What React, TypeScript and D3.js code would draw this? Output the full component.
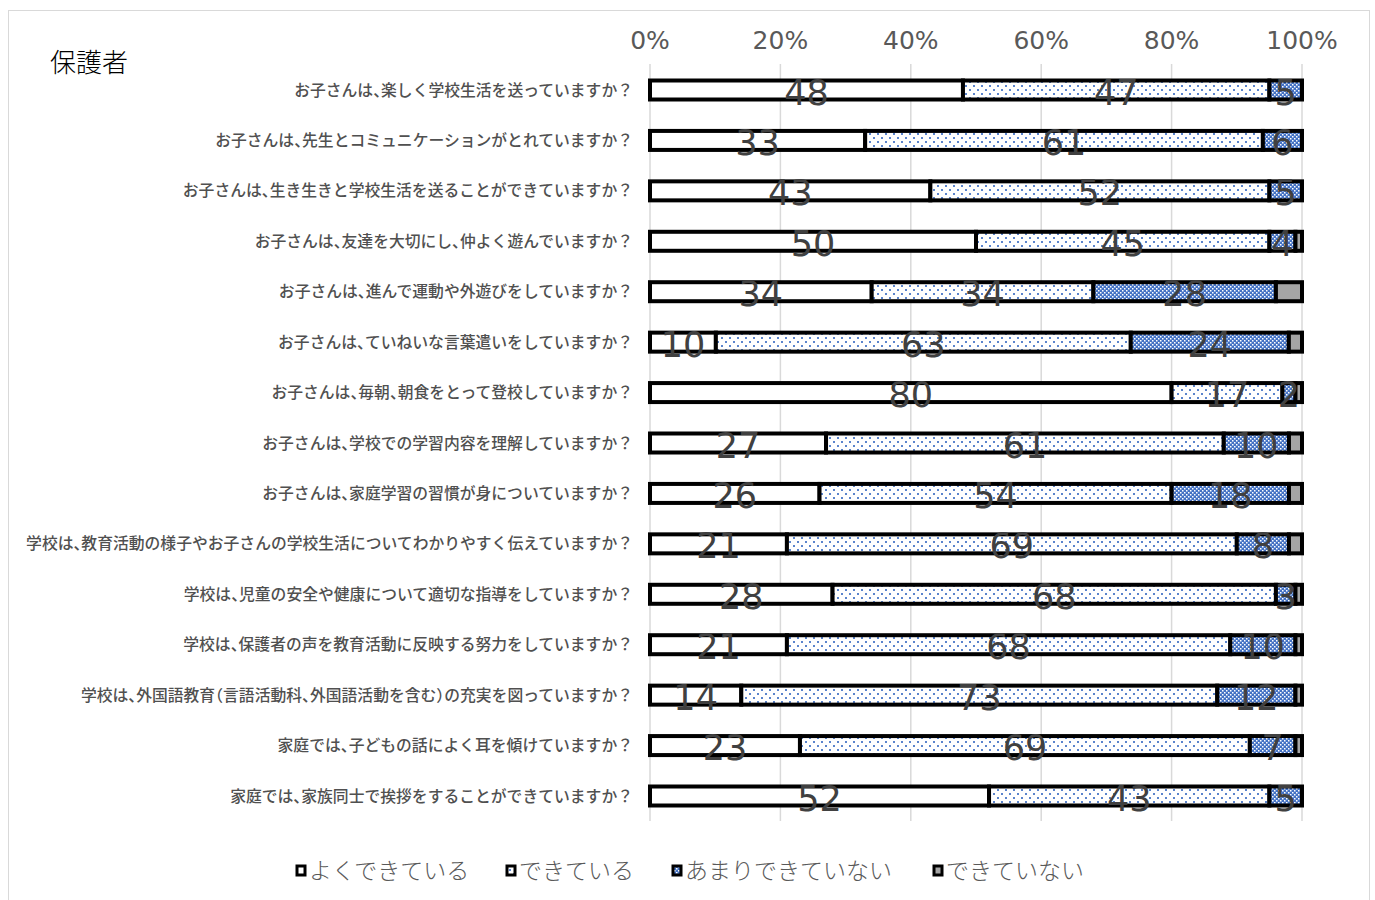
import * as d3 from "d3";

const categories = [
  "お子さんは、楽しく学校生活を送っていますか？",
  "お子さんは、先生とコミュニケーションがとれていますか？",
  "お子さんは、生き生きと学校生活を送ることができていますか？",
  "お子さんは、友達を大切にし、仲よく遊んでいますか？",
  "お子さんは、進んで運動や外遊びをしていますか？",
  "お子さんは、ていねいな言葉遣いをしていますか？",
  "お子さんは、毎朝、朝食をとって登校していますか？",
  "お子さんは、学校での学習内容を理解していますか？",
  "お子さんは、家庭学習の習慣が身についていますか？",
  "学校は、教育活動の様子やお子さんの学校生活についてわかりやすく伝えていますか？",
  "学校は、児童の安全や健康について適切な指導をしていますか？",
  "学校は、保護者の声を教育活動に反映する努力をしていますか？",
  "学校は、外国語教育（言語活動科、外国語活動を含む）の充実を図っていますか？",
  "家庭では、子どもの話によく耳を傾けていますか？",
  "家庭では、家族同士で挨拶をすることができていますか？",
];

const seriesNames = ["よくできている", "できている", "あまりできていない", "できていない"];
const yokuDekiru = [48, 33, 43, 50, 34, 10, 80, 27, 26, 21, 28, 21, 14, 23, 52];
const dekiru = [47, 61, 52, 45, 34, 63, 17, 61, 54, 69, 68, 68, 73, 69, 43];
const amari = [5, 6, 5, 4, 28, 24, 2, 10, 18, 8, 3, 10, 12, 7, 5];
const dekinai = [0, 0, 0, 1, 4, 2, 1, 2, 2, 2, 1, 1, 1, 1, 0];
const xTicks = [0, 0.2, 0.4, 0.6, 0.8, 1];

const FILLS = ["#ffffff", "url(#dots)", "url(#dense)", "#a5a5a5"];
const LABEL_FONT = "'DejaVu Sans', sans-serif";
const JP_FONT = "'Noto Sans CJK JP', sans-serif";

export default function App() {
  const x = d3.scaleLinear().domain([0, 1]).range([650, 1302]);
  const y = d3.scalePoint<string>().domain(categories).range([90, 796]);
  const barH = 19;

  const rows = categories.map((c, i) => {
    const vals = [yokuDekiru[i], dekiru[i], amari[i], dekinai[i]];
    const total = d3.sum(vals);
    let acc = 0;
    const segs = vals.map((v, k) => {
      const s = acc / total;
      acc += v;
      return { v, k, s, e: acc / total };
    });
    return { c, segs };
  });

  const legendX = [296, 506, 672, 933];

  return (
    <svg
      width={1375}
      height={900}
      style={{ position: "absolute", left: 0, top: 0 }}
    >
      <defs>
        <pattern id="dots" width={8} height={8} patternUnits="userSpaceOnUse">
          <rect width={8} height={8} fill="#fff" />
          <rect x={1} y={1} width={2} height={2} fill="#5b84cc" />
          <rect x={5} y={5} width={2} height={2} fill="#5b84cc" />
        </pattern>
        <pattern id="dense" width={4} height={4} patternUnits="userSpaceOnUse">
          <rect width={4} height={4} fill="#4472c4" />
          <rect x={0} y={0} width={1.5} height={1.5} fill="#fff" />
          <rect x={2} y={2} width={1.5} height={1.5} fill="#fff" />
        </pattern>
      </defs>
      <rect x={8.5} y={10.5} width={1361} height={900} fill="#fff" stroke="#d9d9d9" />

      <text x={50} y={72} fontFamily={JP_FONT} fontWeight={300} fontSize={26} fill="#000">
        保護者
      </text>

      {/* gridlines + top axis */}
      {xTicks.map((t) => (
        <g key={t}>
          <line x1={x(t)} x2={x(t)} y1={64} y2={821} stroke="#d9d9d9" strokeWidth={1.5} />
          <text
            x={x(t)}
            y={49}
            textAnchor="middle"
            fontFamily={LABEL_FONT}
            fontSize={25}
            fill="#595959"
          >
            {`${Math.round(t * 100)}%`}
          </text>
        </g>
      ))}

      {rows.map(({ c, segs }) => {
        const cy = y(c) as number;
        return (
          <g key={c}>
            <text
              x={633}
              y={cy}
              dy="0.35em"
              textAnchor="end"
              fontFamily={JP_FONT}
              fontWeight={500}
              fontSize={15.8}
              fill="#505050"
              style={{ fontFeatureSettings: "'halt'" }}
            >
              {c}
            </text>
            {segs
              .filter((d) => d.v > 0)
              .map((d) => (
                <rect
                  key={d.k}
                  x={x(d.s)}
                  y={cy - barH / 2}
                  width={x(d.e) - x(d.s)}
                  height={barH}
                  fill={FILLS[d.k]}
                  stroke="#000"
                  strokeWidth={4}
                />
              ))}
            {segs
              .filter((d) => d.k < 3 && d.v > 0)
              .map((d) => (
                <text
                  key={`l${d.k}`}
                  x={(x(d.s) + x(d.e)) / 2}
                  y={cy + 2}
                  dy="0.36em"
                  textAnchor="middle"
                  fontFamily={LABEL_FONT}
                  fontSize={35}
                  fill="#404040"
                >
                  {d.v}
                </text>
              ))}
          </g>
        );
      })}

      {/* legend */}
      {seriesNames.map((n, i) => (
        <g key={n}>
          <rect
            x={legendX[i] + 1}
            y={866}
            width={8}
            height={9}
            fill={FILLS[i]}
            stroke="#000"
            strokeWidth={3}
          />
          <text
            x={legendX[i] + 13}
            y={871}
            dy="0.36em"
            fontFamily={JP_FONT}
            fontWeight={300}
            fontSize={23}
            fill="#595959"
          >
            {n}
          </text>
        </g>
      ))}
    </svg>
  );
}
